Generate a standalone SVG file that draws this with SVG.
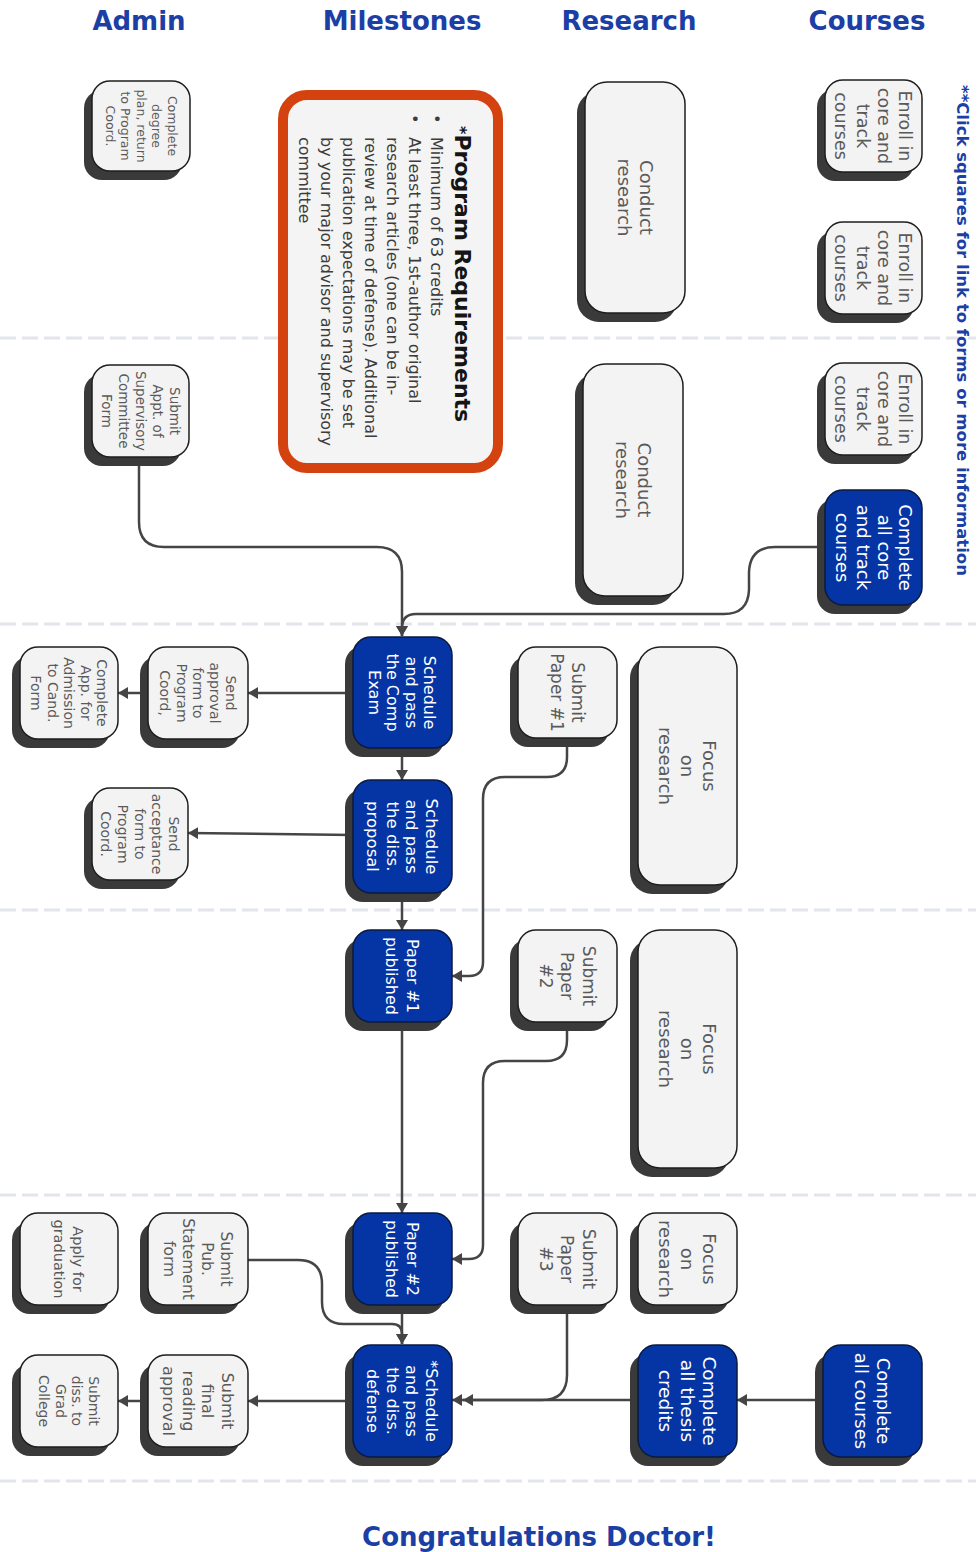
<svg xmlns="http://www.w3.org/2000/svg" width="979" height="1552" viewBox="0 0 979 1552">
<defs>
<style>
.sep{stroke:#e2e6ec;stroke-width:3;stroke-dasharray:16 6;fill:none}
.sh{fill:#3a3a3a}
.gb{fill:#f3f3f3;stroke:#1e1e1e;stroke-width:1.5}
.bb{fill:#0535a4;stroke:#0b1a3d;stroke-width:1.5}
.gt{font-family:"DejaVu Sans",sans-serif;fill:#5a5a5a;text-anchor:middle}
.bt{font-family:"DejaVu Sans",sans-serif;fill:#ffffff;text-anchor:middle}
.hd{font-family:"DejaVu Sans",sans-serif;font-weight:bold;fill:#1b3fa5;font-size:26px;text-anchor:middle}
.cn{fill:none;stroke:#454545;stroke-width:2.5}
.pr{fill:#f4f4f4;stroke:#d4430f;stroke-width:10}
.prt{font-family:"DejaVu Sans",sans-serif;font-weight:bold;font-size:22px;fill:#151515}
.prb{font-family:"DejaVu Sans",sans-serif;font-size:16px;fill:#3c3c3c}
.note{font-family:"DejaVu Sans",sans-serif;font-weight:bold;font-size:16.5px;fill:#1b3fa5}
</style>
<marker id="ar" viewBox="0 0 10 12" refX="10" refY="6" markerWidth="10" markerHeight="12" markerUnits="userSpaceOnUse" orient="auto">
<path d="M0,0 L10,6 L0,12 z" fill="#454545"/>
</marker>
</defs>
<rect width="979" height="1552" fill="#ffffff"/>

<g id="separators">
<line class="sep" x1="0" y1="338" x2="976" y2="338"/>
<line class="sep" x1="0" y1="624" x2="976" y2="624"/>
<line class="sep" x1="0" y1="910" x2="976" y2="910"/>
<line class="sep" x1="0" y1="1195" x2="976" y2="1195"/>
<line class="sep" x1="0" y1="1481" x2="976" y2="1481"/>
</g>

<g id="headers">
<text class="hd" x="139" y="30">Admin</text>
<text class="hd" x="402" y="30">Milestones</text>
<text class="hd" x="629" y="30">Research</text>
<text class="hd" x="867" y="30">Courses</text>
<text class="hd" x="539" y="1546">Congratulations Doctor!</text>
<text class="note" transform="rotate(90)" x="85" y="-957">**Click squares for link to forms or more information</text>
</g>

<g id="connectors">
<path class="cn" d="M139,457 V522 Q139,547 164,547 H377 Q402,547 402,572 V636" marker-end="url(#ar)"/>
<path class="cn" d="M825,547 H775 Q750,547 749,572 V590 Q748,614 724,614 H416 Q402,614 402,628 V636" marker-end="url(#ar)"/>
<path class="cn" d="M353,693 H248" marker-end="url(#ar)"/>
<path class="cn" d="M148,693 H118" marker-end="url(#ar)"/>
<path class="cn" d="M402,748 V780" marker-end="url(#ar)"/>
<path class="cn" d="M353,835 L188,833" marker-end="url(#ar)"/>
<path class="cn" d="M402,893 V930" marker-end="url(#ar)"/>
<path class="cn" d="M567,738 V757 Q567,777 547,777 H505 Q483,777 483,799 V962 Q483,976 469,976 H452" marker-end="url(#ar)"/>
<path class="cn" d="M402,1022 V1213" marker-end="url(#ar)"/>
<path class="cn" d="M567,1022 V1040 Q567,1061 546,1061 H505 Q483,1061 483,1083 V1245 Q483,1259 469,1259 H452" marker-end="url(#ar)"/>
<path class="cn" d="M402,1305 V1344" marker-end="url(#ar)"/>
<path class="cn" d="M248,1260 H298 Q322,1260 322,1284 V1302 Q322,1324 344,1324 H392 Q402,1324 402,1334 V1344" marker-end="url(#ar)"/>
<path class="cn" d="M353,1401 H248" marker-end="url(#ar)"/>
<path class="cn" d="M148,1401 H118" marker-end="url(#ar)"/>
<path class="cn" d="M567,1305 V1375 Q567,1400 542,1400 H452" marker-end="url(#ar)"/>
<path class="cn" d="M638,1400 H463" marker-end="url(#ar)"/>
<path class="cn" d="M823,1400 H737" marker-end="url(#ar)"/>
</g>

<g id="program-requirements">
<rect class="pr" x="283" y="95" width="215" height="373" rx="24"/>
<g transform="rotate(90)">
<text class="prt" x="126" y="-455"><tspan font-size="16">*</tspan>Program Requirements</text>
<text class="prb" x="114" y="-431">•</text>
<text class="prb" x="114" y="-409">•</text>
<text class="prb" x="137" y="-431">Minimum of 63 credits</text>
<text class="prb" x="137" y="-409">At least three, 1st-author original</text>
<text class="prb" x="137" y="-387">research articles (one can be in-</text>
<text class="prb" x="137" y="-365">review at time of defense). Additional</text>
<text class="prb" x="137" y="-343">publication expectations may be set</text>
<text class="prb" x="137" y="-321">by your major advisor and supervisory</text>
<text class="prb" x="137" y="-299">committee</text>
</g>
</g>

<g id="complete-degree-plan">
<rect class="sh" x="84" y="90" width="98" height="90" rx="18"/>
<rect class="gb" x="92" y="81" width="98" height="90" rx="18"/>
<text class="gt" style="font-size:12.5px" transform="translate(141,126) rotate(90)"><tspan x="0" y="-26.5">Complete</tspan><tspan x="0" y="-11">degree</tspan><tspan x="0" y="4.5">plan, return</tspan><tspan x="0" y="20">to Program</tspan><tspan x="0" y="35.5">Coord.</tspan></text>
</g>

<g id="submit-appt-committee">
<rect class="sh" x="84" y="374" width="97" height="92" rx="18"/>
<rect class="gb" x="92" y="365" width="97" height="92" rx="18"/>
<text class="gt" style="font-size:13.5px" transform="translate(140.5,411) rotate(90)"><tspan x="0" y="-29.1">Submit</tspan><tspan x="0" y="-12.1">Appt. of</tspan><tspan x="0" y="4.9">Supervisory</tspan><tspan x="0" y="21.9">Committee</tspan><tspan x="0" y="38.9">Form</tspan></text>
</g>

<g id="send-approval">
<rect class="sh" x="140" y="656" width="100" height="92" rx="18"/>
<rect class="gb" x="148" y="647" width="100" height="92" rx="18"/>
<text class="gt" style="font-size:14px" transform="translate(198,693) rotate(90)"><tspan x="0" y="-28">Send</tspan><tspan x="0" y="-11.5">approval</tspan><tspan x="0" y="5">form to</tspan><tspan x="0" y="21.5">Program</tspan><tspan x="0" y="38">Coord,</tspan></text>
</g>

<g id="complete-app-candidacy">
<rect class="sh" x="12" y="656" width="98" height="92" rx="18"/>
<rect class="gb" x="20" y="647" width="98" height="92" rx="18"/>
<text class="gt" style="font-size:14px" transform="translate(69,693) rotate(90)"><tspan x="0" y="-28">Complete</tspan><tspan x="0" y="-11.5">App. for</tspan><tspan x="0" y="5">Admission</tspan><tspan x="0" y="21.5">to Cand.</tspan><tspan x="0" y="38">Form</tspan></text>
</g>

<g id="send-acceptance">
<rect class="sh" x="84" y="797" width="96" height="92" rx="18"/>
<rect class="gb" x="92" y="788" width="96" height="92" rx="18"/>
<text class="gt" style="font-size:14px" transform="translate(140,834) rotate(90)"><tspan x="0" y="-29">Send</tspan><tspan x="0" y="-12">acceptance</tspan><tspan x="0" y="5">form to</tspan><tspan x="0" y="22">Program</tspan><tspan x="0" y="39">Coord.</tspan></text>
</g>

<g id="submit-pub-statement">
<rect class="sh" x="140" y="1222" width="100" height="92" rx="18"/>
<rect class="gb" x="148" y="1213" width="100" height="92" rx="18"/>
<text class="gt" style="font-size:15.5px" transform="translate(198,1259) rotate(90)"><tspan x="0" y="-22.9">Submit</tspan><tspan x="0" y="-3.9">Pub.</tspan><tspan x="0" y="15.1">Statement</tspan><tspan x="0" y="34.1">form</tspan></text>
</g>

<g id="apply-graduation">
<rect class="sh" x="12" y="1222" width="98" height="92" rx="18"/>
<rect class="gb" x="20" y="1213" width="98" height="92" rx="18"/>
<text class="gt" style="font-size:14.5px" transform="translate(69,1259) rotate(90)"><tspan x="0" y="-4.3">Apply for</tspan><tspan x="0" y="14.7">graduation</tspan></text>
</g>

<g id="submit-final-reading">
<rect class="sh" x="140" y="1364" width="100" height="92" rx="18"/>
<rect class="gb" x="148" y="1355" width="100" height="92" rx="18"/>
<text class="gt" style="font-size:16px" transform="translate(198,1401) rotate(90)"><tspan x="0" y="-23.5">Submit</tspan><tspan x="0" y="-4">final</tspan><tspan x="0" y="15.5">reading</tspan><tspan x="0" y="35">approval</tspan></text>
</g>

<g id="submit-diss-grad">
<rect class="sh" x="12" y="1364" width="98" height="92" rx="18"/>
<rect class="gb" x="20" y="1355" width="98" height="92" rx="18"/>
<text class="gt" style="font-size:14px" transform="translate(69,1401) rotate(90)"><tspan x="0" y="-20">Submit</tspan><tspan x="0" y="-3.3">diss. to</tspan><tspan x="0" y="13.4">Grad</tspan><tspan x="0" y="30.1">College</tspan></text>
</g>

<g id="conduct-research-1">
<rect class="sh" x="577" y="91" width="100" height="231" rx="22"/>
<rect class="gb" x="585" y="82" width="100" height="231" rx="22"/>
<text class="gt" style="font-size:18px" transform="translate(635,197.5) rotate(90)"><tspan x="0" y="-4.5">Conduct</tspan><tspan x="0" y="17.5">research</tspan></text>
</g>

<g id="conduct-research-2">
<rect class="sh" x="575" y="373" width="100" height="232" rx="22"/>
<rect class="gb" x="583" y="364" width="100" height="232" rx="22"/>
<text class="gt" style="font-size:18px" transform="translate(633,480) rotate(90)"><tspan x="0" y="-4.5">Conduct</tspan><tspan x="0" y="17.5">research</tspan></text>
</g>

<g id="submit-paper-1">
<rect class="sh" x="510" y="656" width="99" height="91" rx="18"/>
<rect class="gb" x="518" y="647" width="99" height="91" rx="18"/>
<text class="gt" style="font-size:17px" transform="translate(567.5,692.5) rotate(90)"><tspan x="0" y="-4.4">Submit</tspan><tspan x="0" y="16.6">Paper #1</tspan></text>
</g>

<g id="focus-research-1">
<rect class="sh" x="630" y="656" width="99" height="238" rx="22"/>
<rect class="gb" x="638" y="647" width="99" height="238" rx="22"/>
<text class="gt" style="font-size:18px" transform="translate(687.5,766) rotate(90)"><tspan x="0" y="-15.5">Focus</tspan><tspan x="0" y="6.5">on</tspan><tspan x="0" y="28.5">research</tspan></text>
</g>

<g id="submit-paper-2">
<rect class="sh" x="510" y="939" width="99" height="92" rx="18"/>
<rect class="gb" x="518" y="930" width="99" height="92" rx="18"/>
<text class="gt" style="font-size:17px" transform="translate(567.5,976) rotate(90)"><tspan x="0" y="-15.4">Submit</tspan><tspan x="0" y="6.1">Paper</tspan><tspan x="0" y="27.6">#2</tspan></text>
</g>

<g id="focus-research-2">
<rect class="sh" x="630" y="939" width="99" height="238" rx="22"/>
<rect class="gb" x="638" y="930" width="99" height="238" rx="22"/>
<text class="gt" style="font-size:18px" transform="translate(687.5,1049) rotate(90)"><tspan x="0" y="-15.5">Focus</tspan><tspan x="0" y="6.5">on</tspan><tspan x="0" y="28.5">research</tspan></text>
</g>

<g id="submit-paper-3">
<rect class="sh" x="510" y="1222" width="99" height="92" rx="18"/>
<rect class="gb" x="518" y="1213" width="99" height="92" rx="18"/>
<text class="gt" style="font-size:17px" transform="translate(567.5,1259) rotate(90)"><tspan x="0" y="-15.4">Submit</tspan><tspan x="0" y="6.1">Paper</tspan><tspan x="0" y="27.6">#3</tspan></text>
</g>

<g id="focus-research-3">
<rect class="sh" x="630" y="1222" width="99" height="92" rx="18"/>
<rect class="gb" x="638" y="1213" width="99" height="92" rx="18"/>
<text class="gt" style="font-size:18px" transform="translate(687.5,1259) rotate(90)"><tspan x="0" y="-15.5">Focus</tspan><tspan x="0" y="6.5">on</tspan><tspan x="0" y="28.5">research</tspan></text>
</g>

<g id="enroll-courses-1">
<rect class="sh" x="817" y="89" width="97" height="92" rx="18"/>
<rect class="gb" x="825" y="80" width="97" height="92" rx="18"/>
<text class="gt" style="font-size:17.5px" transform="translate(873.5,126) rotate(90)"><tspan x="0" y="-25.65">Enroll in</tspan><tspan x="0" y="-4.35">core and</tspan><tspan x="0" y="16.95">track</tspan><tspan x="0" y="38.25">courses</tspan></text>
</g>

<g id="enroll-courses-2">
<rect class="sh" x="817" y="231" width="97" height="92" rx="18"/>
<rect class="gb" x="825" y="222" width="97" height="92" rx="18"/>
<text class="gt" style="font-size:17.5px" transform="translate(873.5,268) rotate(90)"><tspan x="0" y="-25.65">Enroll in</tspan><tspan x="0" y="-4.35">core and</tspan><tspan x="0" y="16.95">track</tspan><tspan x="0" y="38.25">courses</tspan></text>
</g>

<g id="enroll-courses-3">
<rect class="sh" x="817" y="372" width="97" height="92" rx="18"/>
<rect class="gb" x="825" y="363" width="97" height="92" rx="18"/>
<text class="gt" style="font-size:17.5px" transform="translate(873.5,409) rotate(90)"><tspan x="0" y="-25.65">Enroll in</tspan><tspan x="0" y="-4.35">core and</tspan><tspan x="0" y="16.95">track</tspan><tspan x="0" y="38.25">courses</tspan></text>
</g>

<g id="complete-core-track">
<rect class="sh" x="817" y="499" width="97" height="115" rx="18"/>
<rect class="bb" x="825" y="490" width="97" height="115" rx="18"/>
<text class="bt" style="font-size:18px" transform="translate(873.5,547.5) rotate(90)"><tspan x="0" y="-25">Complete</tspan><tspan x="0" y="-4">all core</tspan><tspan x="0" y="17">and track</tspan><tspan x="0" y="38">courses</tspan></text>
</g>

<g id="comp-exam">
<rect class="sh" x="345" y="646" width="99" height="111" rx="18"/>
<rect class="bb" x="353" y="637" width="99" height="111" rx="18"/>
<text class="bt" style="font-size:16px" transform="translate(402.5,692.5) rotate(90)"><tspan x="0" y="-21.95">Schedule</tspan><tspan x="0" y="-3.45">and pass</tspan><tspan x="0" y="15.05">the Comp</tspan><tspan x="0" y="33.55">Exam</tspan></text>
</g>

<g id="diss-proposal">
<rect class="sh" x="345" y="789" width="99" height="113" rx="18"/>
<rect class="bb" x="353" y="780" width="99" height="113" rx="18"/>
<text class="bt" style="font-size:16.5px" transform="translate(402.5,836.5) rotate(90)"><tspan x="0" y="-23.35">Schedule</tspan><tspan x="0" y="-3.85">and pass</tspan><tspan x="0" y="15.65">the diss.</tspan><tspan x="0" y="35.15">proposal</tspan></text>
</g>

<g id="paper-1-published">
<rect class="sh" x="345" y="939" width="99" height="92" rx="18"/>
<rect class="bb" x="353" y="930" width="99" height="92" rx="18"/>
<text class="bt" style="font-size:16px" transform="translate(402.5,976) rotate(90)"><tspan x="0" y="-4.7">Paper #1</tspan><tspan x="0" y="16.3">published</tspan></text>
</g>

<g id="paper-2-published">
<rect class="sh" x="345" y="1222" width="99" height="92" rx="18"/>
<rect class="bb" x="353" y="1213" width="99" height="92" rx="18"/>
<text class="bt" style="font-size:16px" transform="translate(402.5,1259) rotate(90)"><tspan x="0" y="-4.7">Paper #2</tspan><tspan x="0" y="16.3">published</tspan></text>
</g>

<g id="diss-defense">
<rect class="sh" x="345" y="1354" width="99" height="112" rx="18"/>
<rect class="bb" x="353" y="1345" width="99" height="112" rx="18"/>
<text class="bt" style="font-size:16px" transform="translate(402.5,1401) rotate(90)"><tspan x="0" y="-23.45">*Schedule</tspan><tspan x="0" y="-3.95">and pass</tspan><tspan x="0" y="15.55">the diss.</tspan><tspan x="0" y="35.05">defense</tspan></text>
</g>

<g id="complete-thesis-credits">
<rect class="sh" x="630" y="1354" width="99" height="112" rx="18"/>
<rect class="bb" x="638" y="1345" width="99" height="112" rx="18"/>
<text class="bt" style="font-size:18.5px" transform="translate(687.5,1401) rotate(90)"><tspan x="0" y="-15.3">Complete</tspan><tspan x="0" y="6.7">all thesis</tspan><tspan x="0" y="28.7">credits</tspan></text>
</g>

<g id="complete-all-courses">
<rect class="sh" x="815" y="1354" width="99" height="112" rx="18"/>
<rect class="bb" x="823" y="1345" width="99" height="112" rx="18"/>
<text class="bt" style="font-size:18px" transform="translate(872.5,1401) rotate(90)"><tspan x="0" y="-4.5">Complete</tspan><tspan x="0" y="17.5">all courses</tspan></text>
</g>
</svg>
